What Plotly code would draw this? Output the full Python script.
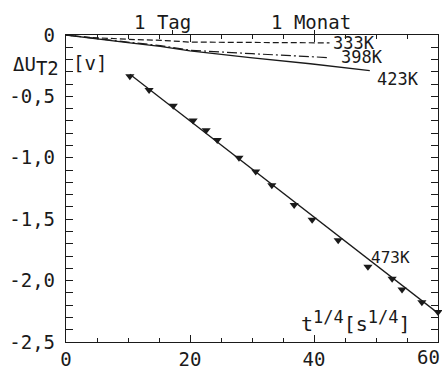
import plotly.graph_objects as go

# ---- data ----
# 473 K measured points (t^1/4 in s^1/4, dU_T2 in V)
x473 = [10.3, 13.4, 17.3, 20.5, 22.6, 24.4, 27.9, 30.6, 33.2, 36.8, 39.7, 43.9, 48.7, 52.6, 54.2, 57.4, 60.0]
y473 = [-0.336, -0.448, -0.576, -0.696, -0.776, -0.856, -1.000, -1.112, -1.224, -1.384, -1.504, -1.672, -1.888, -1.984, -2.072, -2.176, -2.256]
# 473 K fitted straight line (end points)
fit_x = [10.3, 60.0]
fit_y = [-0.320, -2.265]

# 423 K curve (solid)
x423 = [0, 5.5, 10.3, 15.2, 20.0, 29.7, 39.4, 49.0]
y423 = [0, -0.036, -0.064, -0.092, -0.130, -0.184, -0.234, -0.290]
# 398 K curve (dash-dot)
x398 = [0, 5.5, 10.3, 15.2, 20.0, 30.0, 42.3]
y398 = [0, -0.034, -0.060, -0.086, -0.124, -0.152, -0.184]
# 333 K curve (dashed)
x333 = [0, 4.0, 10.0, 16.0, 20.0, 30.0, 42.5]
y333 = [0, -0.020, -0.035, -0.045, -0.058, -0.062, -0.064]

# top-axis time marks
time_labels = ["1 Tag", "1 Monat"]
time_seconds = [86400, 30 * 86400]

x_ticks = [0, 20, 40, 60]
x_ticklabels = ["0", "20", "40", "60"]
y_ticks = [0, -0.5, -1.0, -1.5, -2.0, -2.5]
y_ticklabels = ["0", "-0,5", "-1,0", "-1,5", "-2,0", "-2,5"]

FONT = "DejaVu Sans Mono"
INK = "#1a1a1a"

fig = go.Figure()
fig.add_trace(go.Scatter(x=x333, y=y333, mode="lines",
                         line=dict(color=INK, width=1.2, dash="6px,3px"), showlegend=False))
fig.add_trace(go.Scatter(x=x398, y=y398, mode="lines",
                         line=dict(color=INK, width=1.2, dash="10px,3px,2px,3px"), showlegend=False))
fig.add_trace(go.Scatter(x=x423, y=y423, mode="lines",
                         line=dict(color=INK, width=1.3), showlegend=False))
fig.add_trace(go.Scatter(x=fit_x, y=fit_y, mode="lines",
                         line=dict(color=INK, width=1.3), showlegend=False, cliponaxis=False))
fig.add_trace(go.Scatter(x=x473, y=y473, mode="markers",
                         marker=dict(symbol="triangle-down", size=8, color=INK),
                         showlegend=False, cliponaxis=False))
# invisible trace to activate top axis
fig.add_trace(go.Scatter(x=[0], y=[0], xaxis="x2", mode="markers",
                         marker=dict(opacity=0), showlegend=False, hoverinfo="skip"))

tick_top = [s ** 0.25 for s in time_seconds]

fig.update_layout(
    width=442, height=373,
    margin=dict(l=66, r=3, t=35, b=25),
    paper_bgcolor="white", plot_bgcolor="white",
    font=dict(family=FONT, size=19, color=INK),
    xaxis=dict(range=[0, 60], tickvals=x_ticks[:-1], ticktext=x_ticklabels[:-1],
               showgrid=False, zeroline=False,
               showline=True, linecolor=INK, linewidth=1.3, mirror="allticks",
               ticks="inside", ticklen=7, tickwidth=1.2, tickcolor=INK,
               minor=dict(dtick=5, ticks="inside", ticklen=4, tickwidth=1.2, tickcolor=INK),
               tickfont=dict(family=FONT, size=19, color=INK)),
    yaxis=dict(range=[-2.5, 0], tickvals=y_ticks, ticktext=y_ticklabels, showgrid=False,
               zeroline=False, showline=True, linecolor=INK, linewidth=1.3, mirror="allticks",
               ticks="inside", ticklen=7, tickwidth=1.2, tickcolor=INK,
               minor=dict(dtick=0.1, ticks="inside", ticklen=4, tickwidth=1.2, tickcolor=INK),
               tickfont=dict(family=FONT, size=19, color=INK), ticklabelstandoff=6),
    xaxis2=dict(range=[0, 60], overlaying="x", side="top", tickvals=tick_top,
                ticktext=["", ""], ticks="outside", ticklen=4, tickwidth=1.2,
                tickcolor=INK, showgrid=False, zeroline=False, showline=False),
)

def ann(text, x, y, size=17, xanchor="left", yanchor="middle", xref="x", yref="y"):
    fig.add_annotation(text=text, x=x, y=y, xref=xref, yref=yref, showarrow=False,
                       xanchor=xanchor, yanchor=yanchor,
                       font=dict(family=FONT, size=size, color=INK))

# labels of the time marks on the top axis
ann(time_labels[0], 15.6, 1.043, size=19, xanchor="center", yref="paper")
ann(time_labels[1], 39.5, 1.043, size=19, xanchor="center", yref="paper")

ann("333K", 42.8, -0.066, size=17)
ann("398K", 44.0, -0.183, size=17)
ann("423K", 49.8, -0.357, size=17)
ann("473K", 48.8, -1.81, size=16)
ann("[v]", 0.8, -0.225, size=19)
# y-axis title (left of the axis, paper coordinates)
ann("ΔU<sub><span style='font-size:19px'>T2</span></sub>", -0.014, 0.898, size=19,
    xanchor="right", xref="paper", yref="paper")
# x-axis title inside the plot
ann("t<sup><span style='font-size:17px'>1/4</span></sup>[s<sup><span style='font-size:17px'>1/4</span></sup>]",
    56.0, -2.47, size=20, xanchor="right", yanchor="bottom")
# last x tick label, kept inside the window
ann(x_ticklabels[-1], 1.01, -0.008, size=19, xanchor="right", yanchor="top",
    xref="paper", yref="paper")

fig.write_html("out.html", config={"displayModeBar": False},
               post_script="document.body.style.margin='0';document.body.style.overflow='hidden';")
